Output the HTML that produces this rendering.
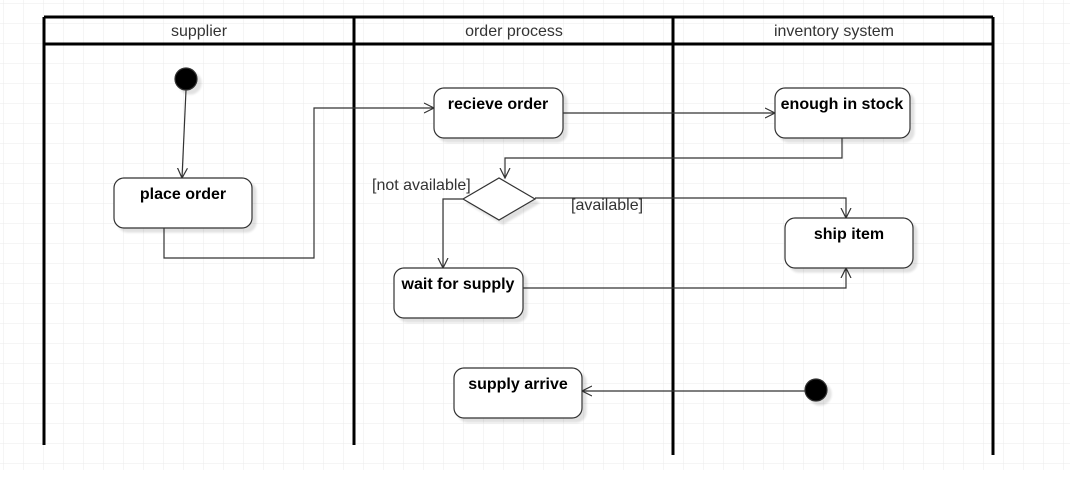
<!DOCTYPE html>
<html><head><meta charset="utf-8"><style>
body{margin:0;background:#fff;}
svg{display:block;font-family:"Liberation Sans",Arial,sans-serif;}
</style></head><body>
<svg width="1070" height="501" viewBox="0 0 1070 501" xmlns="http://www.w3.org/2000/svg">
<defs>
<pattern id="g" width="20" height="20" patternUnits="userSpaceOnUse" x="4" y="4">
<path d="M20 0V20M0 20H20" fill="none" stroke="#ebebeb" stroke-width="1"/>
</pattern>
<marker id="a" markerWidth="12" markerHeight="12" refX="10" refY="6" orient="auto" markerUnits="userSpaceOnUse">
<path d="M0 1L10 6L0 11" fill="none" stroke="#333" stroke-width="1.2"/>
</marker>
<filter id="s" x="-20%" y="-20%" width="150%" height="150%"><feOffset dx="4" dy="4" in="SourceAlpha"/><feGaussianBlur stdDeviation="1"/><feComponentTransfer><feFuncA type="linear" slope="0.12"/></feComponentTransfer><feMerge><feMergeNode/><feMergeNode in="SourceGraphic"/></feMerge></filter>
</defs>
<rect width="1070" height="470" fill="url(#g)"/>
<g stroke="#000" stroke-width="3" fill="none">
<path d="M44 17H993M44 44H993"/>
<path d="M44 17V445M354 17V445M673 17V455M993 17V455"/>
</g>
<g font-size="16" fill="#333" text-anchor="middle">
<text x="199" y="36">supplier</text>
<text x="514" y="36">order process</text>
<text x="834" y="36">inventory system</text>
</g>
<g stroke="#333" stroke-width="1.2" fill="none" marker-end="url(#a)">
<path d="M186 90L182 178"/>
<path d="M164 228V258H314V108H434"/>
<path d="M563 113H775"/>
<path d="M842 138V158H505V178"/>
<path d="M463 199H443V268"/>
<path d="M535 198H846V218"/>
<path d="M523 288H846V268"/>
<path d="M805 391H582"/>
</g>
<g stroke="#333" stroke-width="1.2" fill="#fff" filter="url(#s)">
<circle cx="186" cy="79" r="11" fill="#000"/>
<rect x="114" y="178" width="138" height="50" rx="10"/>
<rect x="434" y="88" width="129" height="50" rx="10"/>
<rect x="775" y="88" width="135" height="50" rx="10"/>
<path d="M463 199L499 178L535 199L499 220Z"/>
<rect x="785" y="218" width="128" height="50" rx="10"/>
<rect x="394" y="268" width="129" height="50" rx="10"/>
<rect x="454" y="368" width="128" height="50" rx="10"/>
<circle cx="816" cy="390" r="11" fill="#000"/>
</g>
<g font-size="16" font-weight="bold" fill="#000" text-anchor="middle">
<text x="183" y="199">place order</text>
<text x="498" y="109">recieve order</text>
<text x="842" y="109">enough in stock</text>
<text x="849" y="239">ship item</text>
<text x="458" y="289">wait for supply</text>
<text x="518" y="389">supply arrive</text>
</g>
<g font-size="16" fill="#333">
<text x="372" y="190">[not available]</text>
<text x="571" y="210">[available]</text>
</g>
</svg>
</body></html>
